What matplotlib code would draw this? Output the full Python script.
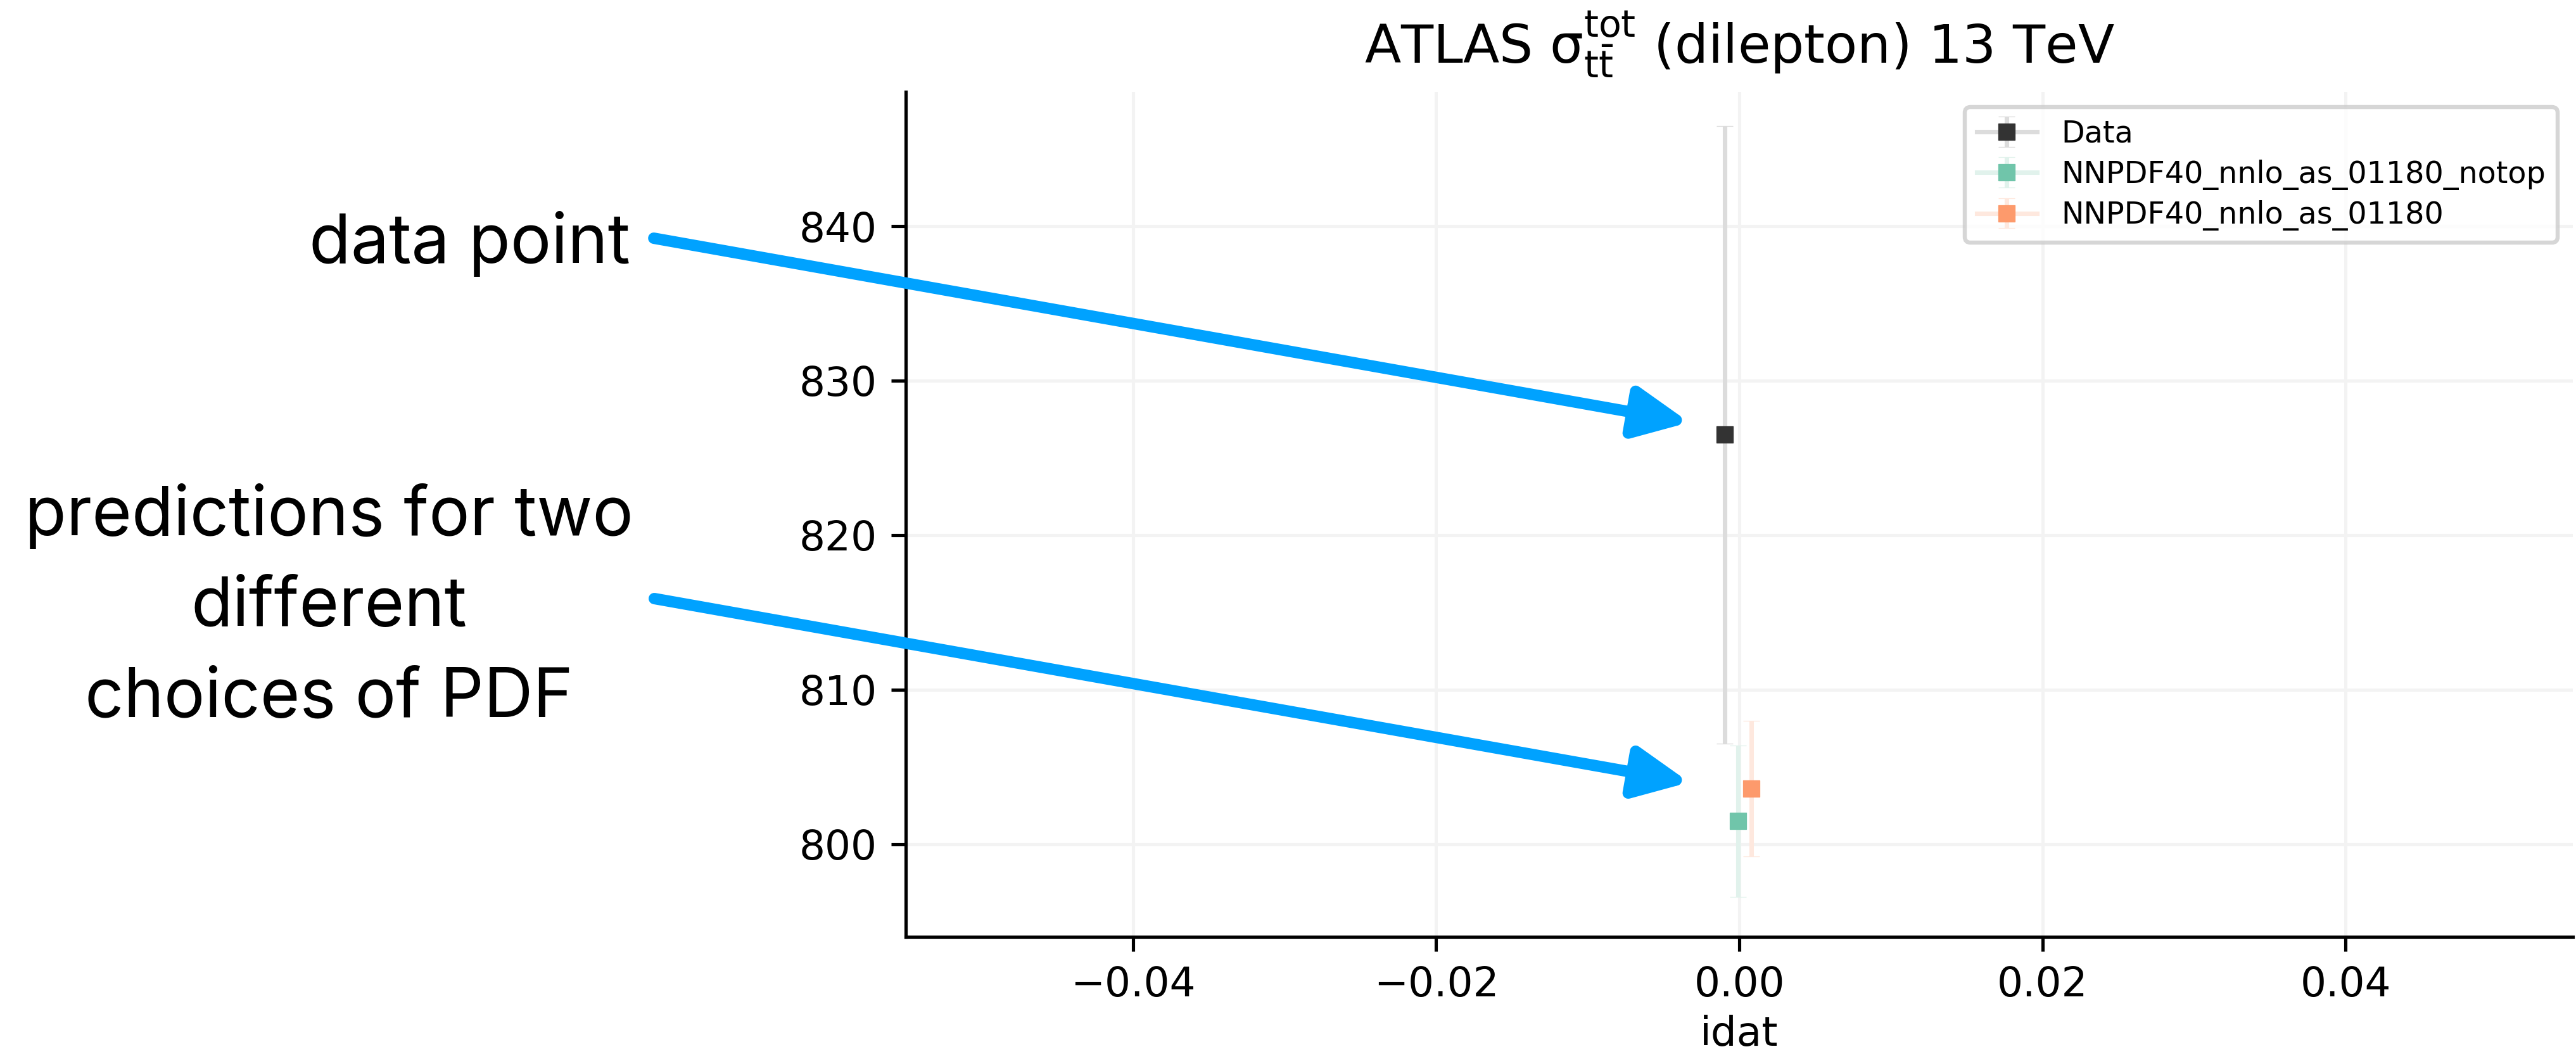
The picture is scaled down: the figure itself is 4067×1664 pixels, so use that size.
import matplotlib
matplotlib.use('Agg')
import matplotlib.pyplot as plt

# values
labels = ['Data', 'NNPDF40_nnlo_as_01180_notop', 'NNPDF40_nnlo_as_01180']
idat = [-0.00095, -0.0001, 0.0008]
sigma = [826.5, 801.5, 803.6]
sigma_err = [20.0, 4.9, 4.4]

xticks = [-0.04, -0.02, 0.0, 0.02, 0.04]
yticks = [800, 810, 820, 830, 840]

marker_colors = ['#333333', '#70c5aa', '#fd9a6c']
err_colors = ['#dcdcdc', '#e1f2ec', '#fee8de']

plt.rcParams['mathtext.default'] = 'regular'

DPI = 464
fig = plt.figure(figsize=(4067 / DPI, 1664 / DPI), dpi=DPI)
ax = fig.add_axes([0.3516, 0.1112, 0.9988 - 0.3516, 0.9129 - 0.1112])

for x, y, e, lab, mc, ec in zip(idat, sigma, sigma_err, labels, marker_colors, err_colors):
    ax.errorbar([x], [y], yerr=[e], marker='s', linestyle='-', lw=1.1, color=ec,
                mfc=mc, mec=mc, ms=4, mew=0.2, ecolor=ec, elinewidth=1.1,
                capsize=2, capthick=1, label=lab)

ax.set_xlim(-0.055, 0.055)
ax.set_ylim(794.0, 848.7)
ax.set_xticks(xticks)
ax.set_yticks(yticks)
ax.grid(True, color='#f3f3f3', lw=0.8)
ax.set_axisbelow(True)
ax.spines['top'].set_visible(False)
ax.spines['right'].set_visible(False)
ax.set_title(r'ATLAS $\sigma_{t\bar{t}}^{tot}$ (dilepton) 13 TeV', fontsize=13, pad=7)
ax.set_xlabel('idat', labelpad=2.5)
ax.legend(loc='upper right', fontsize=7.4, labelspacing=0.35)

# slide annotations
fig.text(995 / 4067, 1 - 415 / 1664, 'data point', ha='right', va='baseline',
         fontsize=16.7, family='Inter')
fig.text(1000 / 4067, 1 - 1131 / 1664, 'predictions for two\ndifferent\nchoices of PDF',
         ha='right', va='baseline', multialignment='center', linespacing=1.53,
         fontsize=16.7, family='Inter')

arrow = dict(arrowstyle='-|>,head_length=0.55,head_width=0.26', mutation_scale=20,
             lw=2.8, color='#00a2ff', shrinkA=0, shrinkB=0)
ax.annotate('', xy=(-0.0033, 827.3), xytext=(0.2538, 0.774),
            textcoords='figure fraction', arrowprops=arrow)
ax.annotate('', xy=(-0.0033, 804.0), xytext=(0.2540, 0.4321),
            textcoords='figure fraction', arrowprops=arrow)

fig.savefig('out.png', dpi=DPI)
